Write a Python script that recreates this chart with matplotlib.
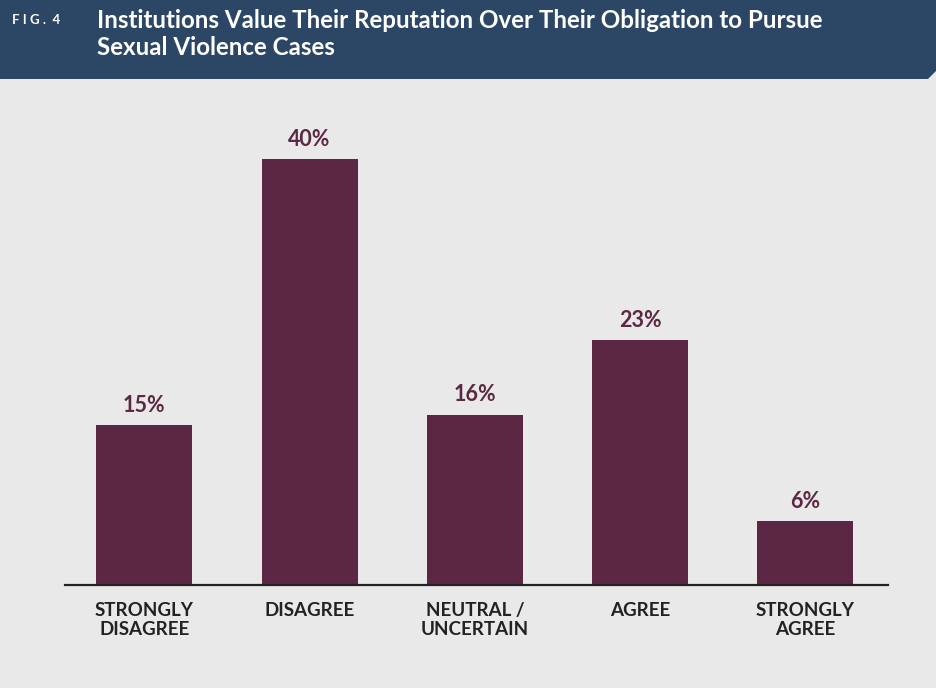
import matplotlib.pyplot as plt
from matplotlib.patches import Polygon

categories = ['STRONGLY\nDISAGREE', 'DISAGREE', 'NEUTRAL /\nUNCERTAIN', 'AGREE', 'STRONGLY\nAGREE']
values = [15, 40, 16, 23, 6]
value_labels = ['15%', '40%', '16%', '23%', '6%']

fig_label = 'F I G .  4'
title = 'Institutions Value Their Reputation Over Their Obligation to Pursue\nSexual Violence Cases'

bg = '#e9e9e9'
navy = '#2c4666'
maroon = '#5c2742'

plt.rcParams['font.family'] = ['Lato', 'DejaVu Sans']

W, H = 937, 688
fig = plt.figure(figsize=(W / 100, H / 100), dpi=100)
fig.patch.set_facecolor(bg)

# header band, small bevel at the bottom right
hdr = [(0, H), (W, H), (W, H - 70), (W - 9, H - 79), (0, H - 79)]
hdr = [(x / W, y / H) for x, y in hdr]
fig.patches.append(Polygon(hdr, closed=True, transform=fig.transFigure,
                           facecolor=navy, edgecolor='none'))

fig.text(12 / W, 1 - 20 / H, fig_label, color='white', fontsize=9.5,
         fontweight='bold', va='center', ha='left')
fig.text(97 / W, 1 - 34 / H, title, color='white', fontsize=17.4,
         fontweight='bold', va='center', ha='left', linespacing=1.2)

ax = fig.add_axes([65 / W, (H - 585) / H, (888 - 65) / W, (585 - 106) / H])
ax.set_facecolor(bg)
x = range(len(values))
ax.bar(x, values, width=0.58, color=maroon)
for xi, v, lab in zip(x, values, value_labels):
    ax.text(xi, v + 0.9, lab, ha='center', va='bottom', color=maroon,
            fontsize=15.5, fontweight='bold')

ax.set_xlim(-0.48, 4.5)
ax.set_ylim(0, 45)
ax.set_xticks(list(x))
ax.set_xticklabels(categories, fontsize=13.5, fontweight='bold', color='#222222',
                   linespacing=1.15)
ax.tick_params(axis='x', length=0, pad=12)
ax.set_yticks([])
for s in ['top', 'right', 'left']:
    ax.spines[s].set_visible(False)
ax.spines['bottom'].set_color('#222222')
ax.spines['bottom'].set_linewidth(1.6)

fig.savefig('out.png', dpi=100, facecolor=bg)
